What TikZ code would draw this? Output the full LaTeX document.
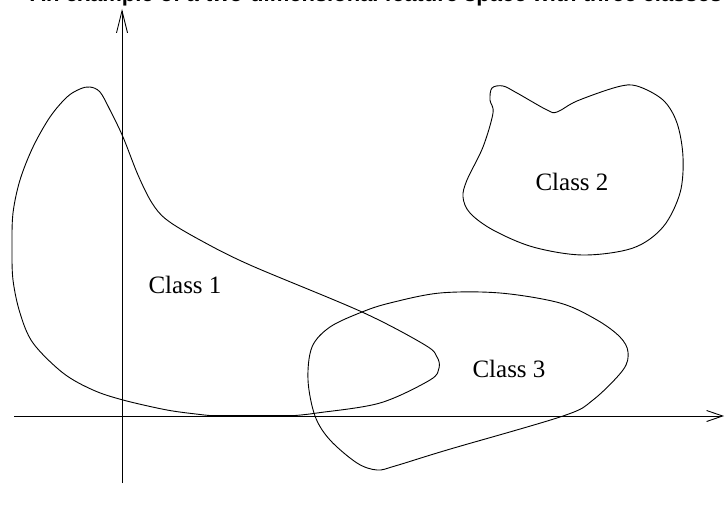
\documentclass[tikz,border=0pt]{standalone}
\usepackage{fontspec}
\setmainfont{Liberation Serif}
\newfontfamily\titlefont{Liberation Sans}
\usetikzlibrary{arrows.meta}
\begin{document}
\begin{tikzpicture}[x=1pt,y=-1pt,
  curve/.style={line width=0.9pt, black},
  axis/.style={line width=0.9pt, black},
  classlabel/.style={font=\fontsize{25}{28}\selectfont, inner sep=0pt}]
\useasboundingbox (0,0) rectangle (725,511);
\begin{scope}
\clip (0,0) rectangle (725,511);
\node[anchor=base west, inner sep=0pt, font=\titlefont\bfseries\fontsize{22}{26}\selectfont] (title) at (30,1.5) {An example of a two-dimensional feature space with three classes};
\end{scope}
% axes
\coordinate (ybot) at (122,483);
\coordinate (ytop) at (122,9);
\coordinate (xleft) at (14,416);
\coordinate (xright) at (724,416);
\draw[axis, -{Straight Barb[length=22pt,width=11pt]}] (ybot) -- (ytop);
\draw[axis, -{Straight Barb[length=16pt,width=11pt]}] (xleft) -- (xright);
% class 1
\draw[curve] plot[smooth, tension=0.55] coordinates {(210,415.5) (200,414.5) (167,410) (123,400) (93,390) (63,373) (33,343) (20,313) (13,280) (12,247) (13,213) (20,180) (33,147) (50,117) (67,97) (80,89) (90,87) (100,92) (110,110) (123,137) (138,175) (152,203) (167,220) (200,240) (250,265) (362,312) (425,345) (437,357) (439,368) (430,380) (380,403) (317,413) (295,415.5)} -- cycle;
% class 2
\draw[curve] plot[smooth cycle, tension=0.55] coordinates {(492,88) (503,86) (517,93) (547,110) (557,112) (577,101) (617,87) (637,86) (663,100) (677,123) (683,157) (680,193) (663,227) (633,248) (583,255) (533,247) (493,230) (470,213) (463,197) (467,180) (483,147) (493,113) (490,100)};
% class 3
\draw[curve] plot[smooth cycle, tension=0.55] coordinates {(440,293) (500,293) (560,303) (597,320) (620,337) (628,352) (623,370) (593,400) (563,416) (447,450) (395,466) (377,470) (357,463) (330,440) (315,416) (308,380) (312,347) (330,327) (362,312) (390,303)};
% labels
\node[classlabel] (c1) at (185,285) {Class 1};
\node[classlabel] (c2) at (572,182) {Class 2};
\node[classlabel] (c3) at (509,369) {Class 3};
\end{tikzpicture}
\end{document}
